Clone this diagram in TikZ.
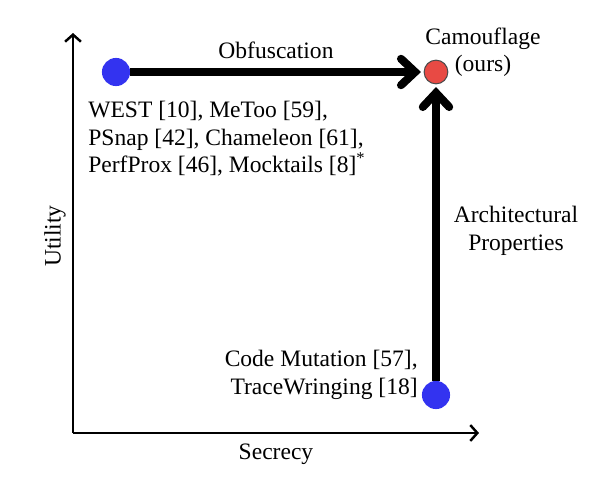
\documentclass[tikz,border=0pt]{standalone}
\usepackage{fontspec}
\setmainfont{Liberation Serif}
\usetikzlibrary{arrows.meta, positioning, calc}
\definecolor{dotblue}{HTML}{3333F0}
\definecolor{dotred}{HTML}{E84A44}
\tikzset{
  axis/.style={line width=1.4pt,-{Straight Barb[length=4pt,width=9pt]}},
  method/.style={circle,fill=dotblue,minimum size=16pt,inner sep=0pt},
  ours/.style={circle,fill=dotred,draw=black!70,line width=0.6pt,minimum size=13.5pt,inner sep=0pt},
  label/.style={font=\fontsize{13.4}{15.6}\selectfont,inner sep=0pt},
  improve/.style={line width=4.6pt,-{Straight Barb[length=8pt,width=15pt,line cap=round]},shorten >=1.5pt},
}
\begin{document}
\begin{tikzpicture}[x=0.02cm,y=-0.02cm]
	    \useasboundingbox (0,0) rectangle (610,501);
	    % axes
	    \coordinate (O) at (73,433);
	    \coordinate (Ytip) at (73,33);
	    \coordinate (Xtip) at (479,433);
	    \draw[axis] (O) -- (Ytip);
	    \draw[axis] (O) -- (Xtip);
	    \node[label,rotate=90] (utility) at (55,236) {Utility};
	    \node[label] (secrecy) at (276,454) {Secrecy};
	    % points
	    \node[method] (obf) at (116,72) {};
	    \node[ours] (camo) at (436,72) {};
	    \node[method] (arch) at (436,395) {};
	    \draw[improve] (obf) -- (camo);
	    \draw[improve] (arch) -- (camo);
	    % labels
	    \node[label] (obflabel) at (276,50) {Obfuscation};
	    \node[label,align=center] (camolabel) at (483,52) {Camouflage\\(ours)};
	    \node[label,align=left,anchor=north west] (west) at (88,101) {WEST [10], MeToo [59],\\PSnap [42], Chameleon [61],\\PerfProx [46], Mocktails [8]\textsuperscript{*}};
	    \node[label,align=right,anchor=east] (code) at (418,375) {Code Mutation [57],\\TraceWringing [18]};
	    \node[label,align=center] (archlabel) at (516,231) {Architectural\\Properties};
	\end{tikzpicture}
\end{document}
